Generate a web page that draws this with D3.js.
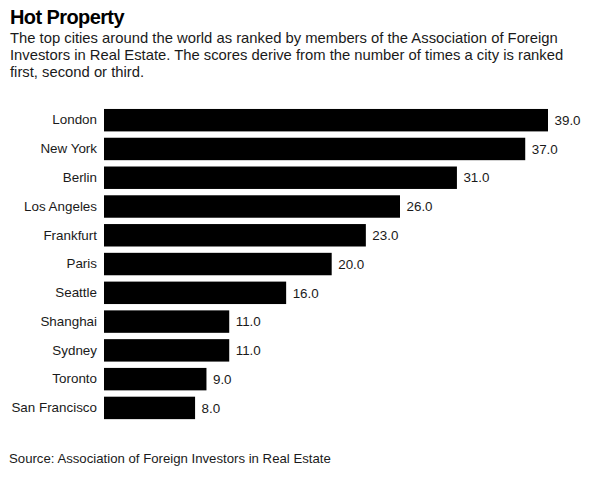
<!DOCTYPE html>
<html>
<head>
<meta charset="utf-8">
<script src="https://d3js.org/d3.v7.min.js"></script>
<style>
  body { margin: 0; background: #fff; }
  svg text { font-family: "Liberation Sans", Arial, sans-serif; }
</style>
</head>
<body>
<div id="chart"></div>
<script>
// data
var cities = ["London", "New York", "Berlin", "Los Angeles", "Frankfurt", "Paris",
              "Seattle", "Shanghai", "Sydney", "Toronto", "San Francisco"];
var scores = [39, 37, 31, 26, 23, 20, 16, 11, 11, 9, 8];

var title = "Hot Property";
var subtitle = [
  "The top cities around the world as ranked by members of the Association of Foreign",
  "Investors in Real Estate. The scores derive from the number of times a city is ranked",
  "first, second or third."
];
var source = "Source: Association of Foreign Investors in Real Estate";

var data = cities.map(function(c, i) { return {city: c, value: scores[i]}; });

var width = 600, height = 478;

var svg = d3.select("#chart")
  .append("svg")
    .attr("width", width)
    .attr("height", height);

// header
svg.append("text")
  .attr("x", 10)
  .attr("y", 24)
  .attr("font-size", 20)
  .attr("font-weight", "bold")
  .attr("letter-spacing", -0.6)
  .attr("fill", "#000")
  .text(title);

svg.append("g")
  .selectAll("text")
  .data(subtitle)
  .enter()
  .append("text")
    .attr("x", 10)
    .attr("y", function(d, i) { return 43 + i * 17; })
    .attr("font-size", 14.8)
    .attr("fill", "#1a1a1a")
    .text(function(d) { return d; });

// scales
var x = d3.scaleLinear()
  .domain([0, 39])
  .range([104, 548]);

var y = d3.scaleBand()
  .domain(cities)
  .range([105.8, 422.3])
  .paddingInner(0.22)
  .paddingOuter(0.11);

// city labels
var yAxis = svg.append("g")
  .attr("transform", "translate(" + x(0) + ",0)")
  .call(d3.axisLeft(y).tickSize(0).tickPadding(7));
yAxis.select(".domain").remove();
yAxis.selectAll("text")
  .attr("font-size", 13.4)
  .attr("font-family", "Liberation Sans, Arial, sans-serif")
  .attr("fill", "#1a1a1a");

// bars
svg.selectAll("rect.bar")
  .data(data)
  .enter()
  .append("rect")
    .attr("class", "bar")
    .attr("x", x(0))
    .attr("y", function(d) { return y(d.city); })
    .attr("width", function(d) { return x(d.value) - x(0); })
    .attr("height", y.bandwidth())
    .attr("fill", "#000");

// value labels
svg.selectAll("text.val")
  .data(data)
  .enter()
  .append("text")
    .attr("class", "val")
    .attr("x", function(d) { return x(d.value) + 6.5; })
    .attr("y", function(d) { return y(d.city) + y.bandwidth() / 2; })
    .attr("dy", "0.35em")
    .attr("font-size", 13.4)
    .attr("fill", "#1a1a1a")
    .text(function(d) { return d3.format(".1f")(d.value); });

// source
svg.append("text")
  .attr("x", 9)
  .attr("y", 463)
  .attr("font-size", 13.2)
  .attr("fill", "#1a1a1a")
  .text(source);
</script>
</body>
</html>
